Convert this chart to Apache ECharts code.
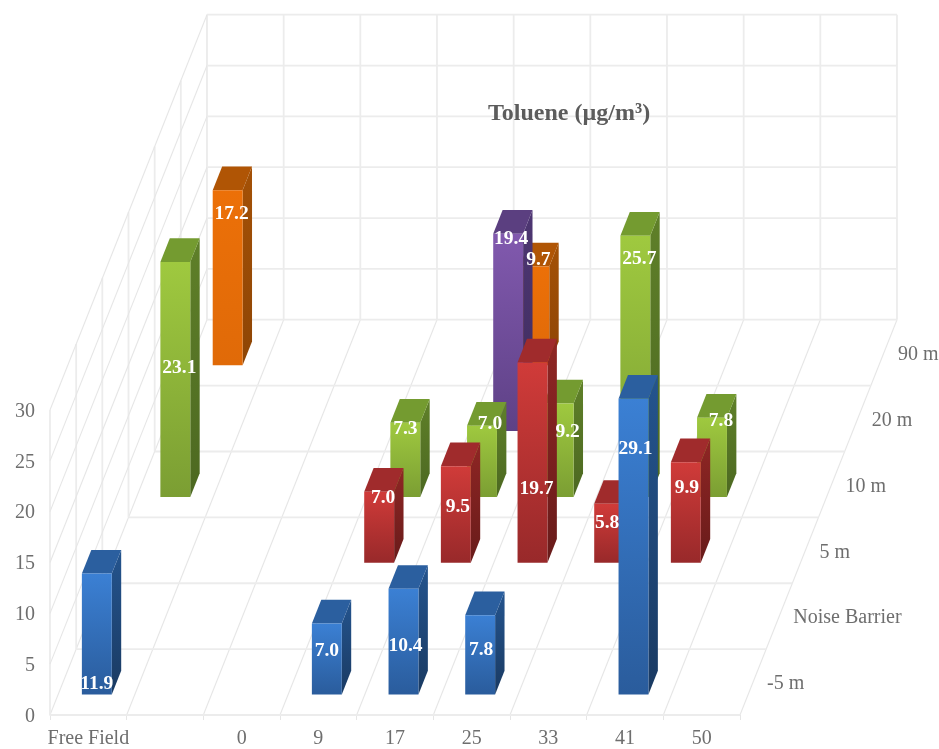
<!DOCTYPE html>
<html>
<head>
<meta charset="utf-8">
<style>html,body{margin:0;padding:0;background:#fff}#chart{width:939px;height:749px}</style>
<script src="https://cdn.jsdelivr.net/npm/echarts@6/dist/echarts.min.js"></script>
</head>
<body>
<div id="chart"></div>
<script>
// Sites along the road (columns) and distance rows (front to back)
const categories = ['Free Field', '', '0', '9', '17', '25', '33', '41', '50'];
const rowNames = ['-5 m', 'Noise Barrier', '5 m', '10 m', '20 m', '90 m'];
const valueTicks = [0, 5, 10, 15, 20, 25, 30];

// Toluene readings per row, one slot per column
const rowMinus5 = [11.9, null, null, 7.0, 10.4, 7.8, null, 29.1, null];
const rowBarrier = [null, null, null, null, null, null, null, null, null];
const row5 = [null, null, null, 7.0, 9.5, 19.7, 5.8, 9.9, null];
const row10 = [23.1, null, null, 7.3, 7.0, 9.2, 25.7, 7.8, null];
const row20 = [null, null, null, null, 19.4, null, null, null, null];
const row90 = [17.2, null, null, null, 9.7, null, null, null, null];
const rowValues = [rowMinus5, rowBarrier, row5, row10, row20, row90];

// Where each value label sits: height on the bar (value units) and a sideways nudge (px)
const labelHeights = [
  [1.2, null, null, 4.5, 5.0, 4.6, null, 24.4, null],
  [null, null, null, null, null, null, null, null, null],
  [null, null, null, 6.6, 5.7, 7.5, 4.1, 7.6, null],
  [12.9, null, null, 6.9, 7.4, 6.6, 23.6, 7.7, null],
  [null, null, null, null, 19.1, null, null, null, null],
  [15.1, null, null, null, 10.5, null, null, null, null]
];
const labelNudges = [
  [0, 0, 0, 0, 2, 1, 0, 2, 0],
  [0, 0, 0, 0, 0, 0, 0, 0, 0],
  [0, 0, 0, 4, 2, 4, -2, 1, 0],
  [4, 0, 0, 0, 8, 9, 4, 9, 0],
  [0, 0, 0, 0, 3, 0, 0, 0, 0],
  [4, 0, 0, 0, 4, 0, 0, 0, 0]
];

// Face shades per row: [front top, front bottom, side top, side bottom, cap]
const rowShades = [
  ['#3b80d4', '#2a5c9c', '#24548e', '#1a3a62', '#2b5f9f'],
  ['#888888', '#666666', '#555555', '#444444', '#666666'],
  ['#d03b39', '#98292a', '#8f2624', '#681b1a', '#a02b2c'],
  ['#9fc93f', '#7b9e33', '#5f8029', '#4c6821', '#749b30'],
  ['#8159ae', '#5e4186', '#4d3672', '#3f2c5e', '#5b3f80'],
  ['#ec7008', '#e06a08', '#a45106', '#8e4505', '#b05505']
];

const SERIF = '"Liberation Serif", "Times New Roman", serif';
const INK = '#6e6e6e';
const GRID_LINE = '#e6e6e6';
const GRID_LINE_SOFT = '#ececec';
const TICK_SIZE = 20;

// Oblique floor: one row back moves this far along the column and value axes
const ROW_SHIFT_COL = 0.3413;
const ROW_SHIFT_VAL = 6.48;
const VALUE_TOP = valueTicks[valueTicks.length - 1];

// Bar footprint inside its floor cell, as fractions
const BAR_X0 = 0.31, BAR_X1 = 0.70, BAR_D0 = 0.31, BAR_D1 = 0.67;

// col runs 0..categories.length on the hidden numeric x axis, one unit per column
function project(api, col, depth, value) {
  return api.coord([col + depth * ROW_SHIFT_COL, value + depth * ROW_SHIFT_VAL]);
}

function vGradient(top, bottom) {
  return new echarts.graphic.LinearGradient(0, 0, 0, 1, [
    { offset: 0, color: top }, { offset: 1, color: bottom }
  ]);
}

// Wall and floor rules, as [col, depth, value] pairs
const colCount = categories.length, rowCount = rowNames.length;
const gridSegments = [];
for (let c = 0; c <= colCount; c++) {
  gridSegments.push([[c, 0, 0], [c, rowCount, 0]]);
  gridSegments.push([[c, rowCount, 0], [c, rowCount, VALUE_TOP]]);
}
for (let r = 0; r <= rowCount; r++) {
  gridSegments.push([[0, r, 0], [colCount, r, 0]]);
  gridSegments.push([[0, r, 0], [0, r, VALUE_TOP]]);
}
valueTicks.slice(1).forEach(function (v) {
  gridSegments.push([[0, 0, v], [0, rowCount, v]]);
  gridSegments.push([[0, rowCount, v], [colCount, rowCount, v]]);
});

const gridSeries = {
  type: 'custom',
  name: 'grid',
  xAxisIndex: 1,
  silent: true,
  data: gridSegments.map(function () { return [0, 0]; }),
  renderItem: function (params, api) {
    const s = gridSegments[params.dataIndex];
    const a = project(api, s[0][0], s[0][1], s[0][2]);
    const b = project(api, s[1][0], s[1][1], s[1][2]);
    // Rules that run square to the page read heavier than the slanted depth rules
    const square = Math.abs(a[0] - b[0]) < 0.5 || Math.abs(a[1] - b[1]) < 0.5;
    return {
      type: 'line',
      shape: { x1: a[0], y1: a[1], x2: b[0], y2: b[1] },
      style: {
        stroke: square ? GRID_LINE_SOFT : GRID_LINE,
        lineWidth: square ? 1.8 : 1.1,
        fill: null
      }
    };
  }
};

// Row names run along the right edge of the floor
const rowLabelSeries = {
  type: 'custom',
  name: 'rows',
  xAxisIndex: 1,
  silent: true,
  data: rowNames.map(function () { return [0, 0]; }),
  renderItem: function (params, api) {
    const p = project(api, colCount, params.dataIndex + 0.5, 0);
    return {
      type: 'text',
      x: p[0] + 14,
      y: p[1] + 2,
      style: {
        text: rowNames[params.dataIndex],
        fill: INK,
        font: TICK_SIZE + 'px ' + SERIF,
        textAlign: 'left',
        textVerticalAlign: 'middle'
      }
    };
  }
};

function poly(points, fill) {
  return { type: 'polygon', shape: { points: points }, style: { fill: fill, stroke: null } };
}

function barSeries(rowIndex) {
  const data = [];
  rowValues[rowIndex].forEach(function (v, i) {
    if (v !== null) data.push([i, v]);
  });
  const shades = rowShades[rowIndex];
  return {
    type: 'custom',
    name: rowNames[rowIndex],
    xAxisIndex: 1,
    data: data,
    renderItem: function (params, api) {
      const col = api.value(0), v = api.value(1);
      const x0 = col + BAR_X0, x1 = col + BAR_X1;
      const d0 = rowIndex + BAR_D0, d1 = rowIndex + BAR_D1;
      const fb0 = project(api, x0, d0, 0), fb1 = project(api, x1, d0, 0);
      const ft0 = project(api, x0, d0, v), ft1 = project(api, x1, d0, v);
      const bb1 = project(api, x1, d1, 0);
      const bt0 = project(api, x0, d1, v), bt1 = project(api, x1, d1, v);
      const anchor = project(api, (x0 + x1) / 2, d0, labelHeights[rowIndex][col]);
      return {
        type: 'group',
        children: [
          poly([fb1, bb1, bt1, ft1], vGradient(shades[2], shades[3])),
          poly([ft0, ft1, bt1, bt0], shades[4]),
          poly([fb0, fb1, ft1, ft0], vGradient(shades[0], shades[1])),
          {
            type: 'text',
            x: anchor[0] + labelNudges[rowIndex][col],
            y: anchor[1] + 2,
            z2: 100,
            style: {
              text: v.toFixed(1),
              fill: '#ffffff',
              font: 'bold 19.5px ' + SERIF,
              textAlign: 'center',
              textVerticalAlign: 'middle'
            }
          }
        ]
      };
    }
  };
}

const chart = echarts.init(document.getElementById('chart'), null, { renderer: 'canvas' });
chart.setOption({
  animation: false,
  backgroundColor: '#ffffff',
  title: {
    text: 'Toluene (µg/m³)',
    left: 488,
    top: 102,
    padding: 0,
    textStyle: { fontFamily: SERIF, fontSize: 24, fontWeight: 'bold', color: '#5c5c5c' }
  },
  grid: { left: 50, top: 410, width: 690, height: 305, outerBoundsMode: 'none' },
  xAxis: [
    {
      type: 'category',
      data: categories,
      boundaryGap: true,
      axisLine: { show: true, lineStyle: { color: GRID_LINE, width: 1.2 } },
      axisTick: { show: true, length: 5, lineStyle: { color: GRID_LINE } },
      axisLabel: { interval: 0, margin: 14, fontFamily: SERIF, fontSize: TICK_SIZE, color: INK },
      splitLine: { show: false }
    },
    { type: 'value', min: 0, max: colCount, show: false, splitLine: { show: false } }
  ],
  yAxis: {
    type: 'value',
    min: 0,
    max: VALUE_TOP,
    interval: 5,
    axisLine: { show: false },
    axisTick: { show: false },
    axisLabel: { margin: 15, verticalAlign: 'top', lineHeight: 3, fontFamily: SERIF, fontSize: TICK_SIZE, color: INK },
    splitLine: { show: false }
  },
  series: [gridSeries, rowLabelSeries].concat(
    // Drawn back row first so nearer bars cover farther ones
    [5, 4, 3, 2, 1, 0].map(barSeries)
  )
});
</script>
</body>
</html>
